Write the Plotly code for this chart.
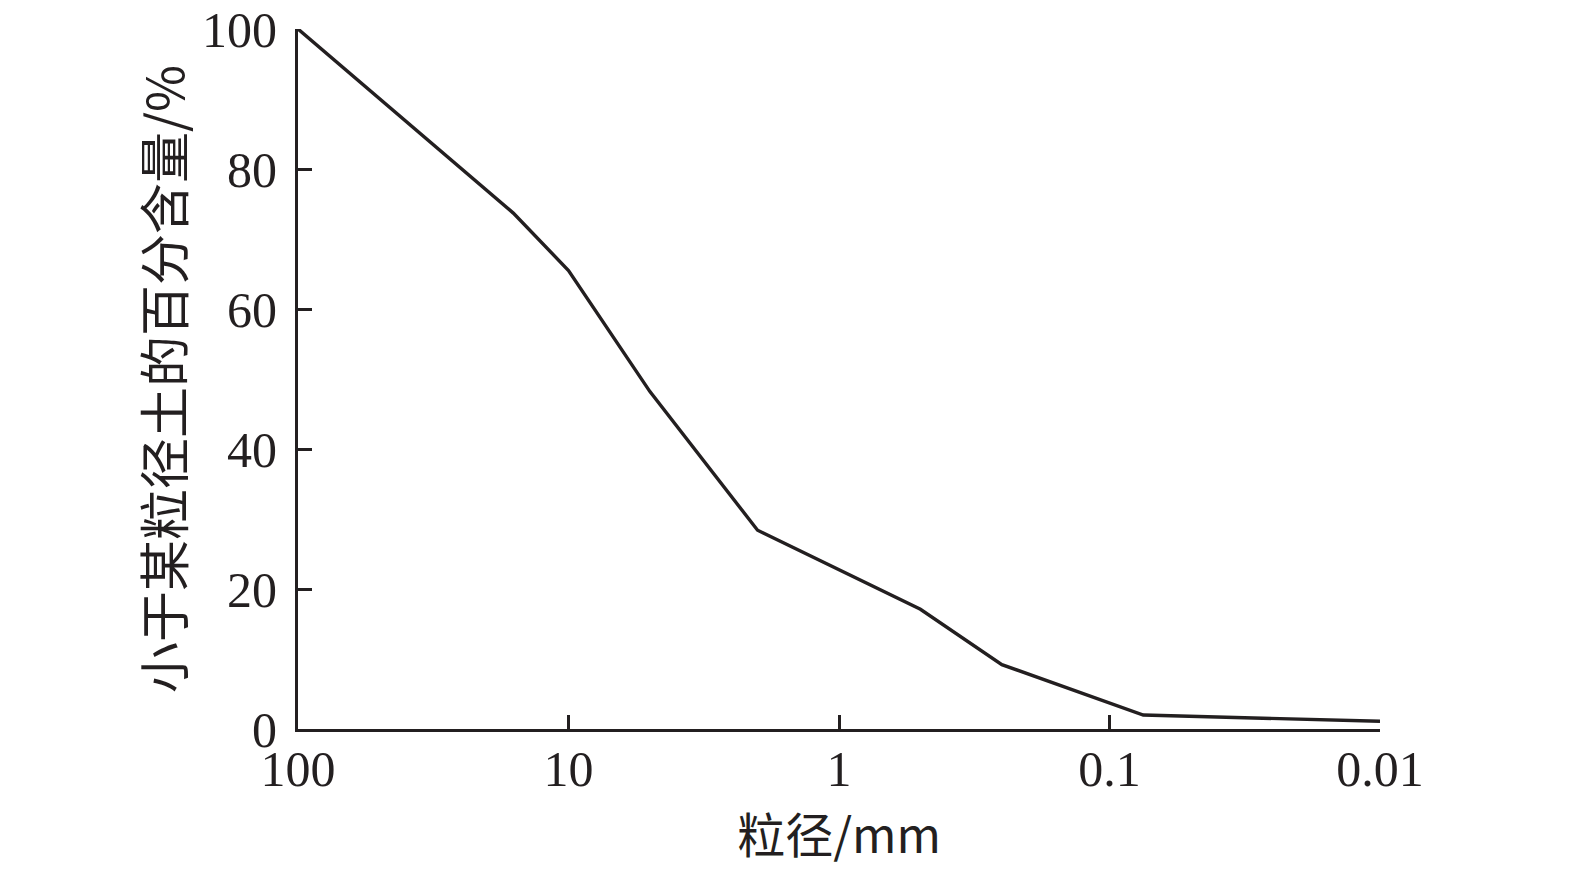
import plotly.graph_objects as go

# Data
particle_size_mm = [100, 16, 10, 5, 2, 0.5, 0.25, 0.075, 0.01]
percent_finer = [100, 73.7, 65.5, 48.2, 28.4, 17.1, 9.2, 2.0, 1.1]

x_tick_vals = [100, 10, 1, 0.1, 0.01]
x_tick_text = ["100", "10", "1", "0.1", "0.01"]
y_tick_vals = [0, 20, 40, 60, 80, 100]

x_title = "粒径/mm"
y_title = "小于某粒径土的百分含量/%"

ink = "#231f20"
font_family = "Liberation Serif, Noto Sans CJK SC, serif"

fig = go.Figure()
fig.add_trace(go.Scatter(
    x=particle_size_mm, y=percent_finer, mode="lines",
    line=dict(color=ink, width=3.4), cliponaxis=False, showlegend=False,
))

fig.update_layout(
    width=1575, height=873,
    margin=dict(l=290, r=203, t=21, b=152),
    plot_bgcolor="white", paper_bgcolor="white",
    font=dict(family=font_family, color=ink, size=48),
)
fig.update_xaxes(
    type="log", range=[2, -2],
    tickmode="array", tickvals=x_tick_vals, ticktext=x_tick_text,
    ticks="inside", ticklen=14, tickwidth=2.5, tickcolor=ink,
    showline=True, linecolor=ink, linewidth=3,
    showgrid=False, zeroline=False, mirror=False,
    tickfont=dict(size=50, family="Liberation Serif"),
    ticklabelstandoff=-6, ticklabeloverflow="allow",
    title=dict(text=x_title, font=dict(size=48, family="Noto Sans CJK SC, Liberation Serif"), standoff=22),
    automargin=False,
)
fig.update_yaxes(
    range=[0, 100],
    tickmode="array", tickvals=y_tick_vals,
    ticks="inside", ticklen=14, tickwidth=2.5, tickcolor=ink,
    showline=True, linecolor=ink, linewidth=3,
    showgrid=False, zeroline=False, mirror=False,
    tickfont=dict(size=50, family="Liberation Serif"),
    ticklabelstandoff=8, ticklabeloverflow="allow",
    title=dict(text=y_title, font=dict(size=51, family="Noto Sans CJK SC, Liberation Serif"), standoff=2),
    automargin=False,
)

fig.write_html("out.html")
